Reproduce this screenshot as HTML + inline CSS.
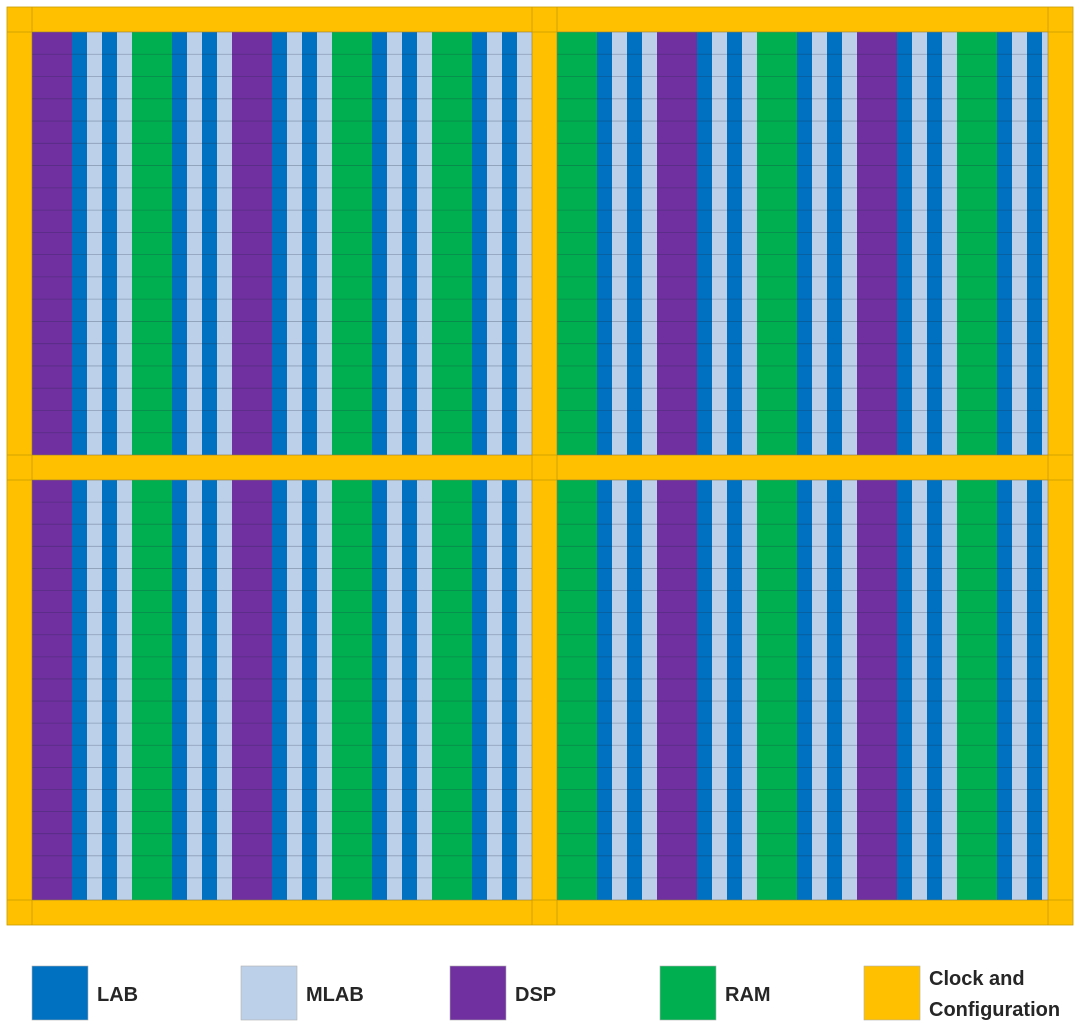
<!DOCTYPE html>
<html><head><meta charset="utf-8"><style>
html,body{margin:0;padding:0;background:#fff;}
svg{display:block;}
text{font-family:"Liberation Sans",sans-serif;font-weight:bold;font-size:20px;fill:#262626;}
</style></head><body>
<svg id="chart" width="1080" height="1029"></svg>
<script>
const blockTypes = ["LAB","MLAB","DSP","RAM","Clock and Configuration"];
const typeColors = ["#0070C0","#BDD0EA","#7030A0","#00B050","#FFC000"];
const leftColumns = ["DSP","LAB","MLAB","LAB","MLAB","RAM","LAB","MLAB","LAB","MLAB","DSP","LAB","MLAB","LAB","MLAB","RAM","LAB","MLAB","LAB","MLAB","RAM","LAB","MLAB","LAB","MLAB"];
const rightColumns = ["RAM","LAB","MLAB","LAB","MLAB","DSP","LAB","MLAB","LAB","MLAB","RAM","LAB","MLAB","LAB","MLAB","DSP","LAB","MLAB","LAB","MLAB","RAM","LAB","MLAB","LAB","MLAB"];
const rowsPerBlock = 19;

const NS="http://www.w3.org/2000/svg";
const svg=document.getElementById('chart');
function mk(tag,attrs,parent){const e=document.createElementNS(NS,tag);for(const k in attrs)e.setAttribute(k,attrs[k]);(parent||svg).appendChild(e);return e;}
const color=t=>typeColors[blockTypes.indexOf(t)];
const widthOf=t=>(t==="DSP"||t==="RAM")?40:15;

const yel=mk('rect',{x:7,y:7,width:1066,height:918,fill:color("Clock and Configuration"),stroke:"#c89a00","stroke-width":0.8});



const regions=[[32,532,32,455,leftColumns],[557,1048,32,455,rightColumns],[32,532,480,900,leftColumns],[557,1048,480,900,rightColumns]];
regions.forEach((r,ri)=>{
  const [x0,x1,y0,y1,cols]=r;
  const g=mk('g',{});
  
  
  let x=x0;
  cols.forEach((t)=>{
    if(x>=x1)return;
    const w=Math.min(widthOf(t),x1-x);
    const c=mk('rect',{x:x,y:y0,width:w,height:y1-y0,fill:color(t)},g);
    
    
    x+=w;
  });
  const h=(y1-y0)/rowsPerBlock;
  for(let i=1;i<rowsPerBlock;i++){
    mk('line',{x1:x0,x2:x1,y1:y0+i*h,y2:y0+i*h,stroke:"#1a2a40","stroke-width":0.8,"stroke-opacity":0.3},g);
  }
  mk('rect',{x:x0,y:y0,width:x1-x0,height:y1-y0,fill:"none",stroke:"#8a7a40","stroke-width":0.6},g);
});
[32,532,557,1048].forEach(x=>{[[7,32],[455,480],[900,925]].forEach(([a,b])=>mk('line',{x1:x,x2:x,y1:a,y2:b,stroke:"#c89a00","stroke-width":0.8}));});
[32,455,480,900].forEach(y=>{[[7,32],[532,557],[1048,1073]].forEach(([a,b])=>mk('line',{x1:a,x2:b,y1:y,y2:y,stroke:"#c89a00","stroke-width":0.8}));});

const legendX=[32,241,450,660,864];
blockTypes.forEach((t,i)=>{
  const g=mk('g',{});
  
  
  mk('rect',{x:legendX[i],y:966,width:56,height:54,fill:typeColors[i],stroke:"#b0b0b0","stroke-width":0.6},g);
  if(i<4){
    const tx=mk('text',{x:legendX[i]+65,y:1001},g);tx.textContent=t;
  } else {
    const a=mk('text',{x:929,y:985},g);a.textContent="Clock and";
    const b=mk('text',{x:929,y:1016},g);b.textContent="Configuration";
  }
});
</script>
</body></html>
